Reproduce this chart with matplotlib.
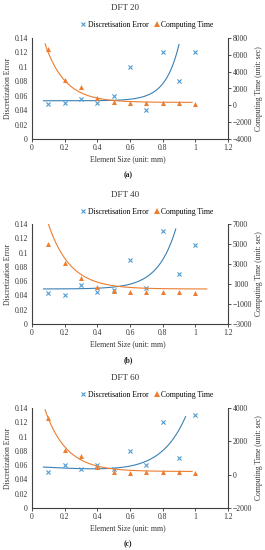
import numpy as np
import matplotlib
matplotlib.use("Agg")
import matplotlib.pyplot as plt
from matplotlib.lines import Line2D

plt.rcParams['font.family'] = ['Liberation Serif', 'DejaVu Serif']

# element sizes (mm)
element_size = [0.1, 0.2, 0.3, 0.4, 0.5, 0.6, 0.7, 0.8, 0.9, 1.0]

# discretisation error per panel
error_dft20 = [0.048, 0.050, 0.055, 0.050, 0.060, 0.100, 0.040, 0.120, 0.080, 0.120]
error_dft40 = [0.043, 0.040, 0.055, 0.045, 0.048, 0.090, 0.050, 0.130, 0.070, 0.110]
error_dft60 = [0.050, 0.060, 0.055, 0.060, 0.055, 0.080, 0.060, 0.120, 0.070, 0.130]

# computing time (sec) per panel
time_dft20 = [6700, 3000, 2200, 900, 400, 300, 300, 300, 300, 200]
time_dft40 = [5050, 3150, 1600, 670, 270, 170, 200, 200, 170, 120]
time_dft60 = [3400, 1480, 1120, 440, 160, 120, 140, 140, 140, 80]

titles = ["DFT 20", "DFT 40", "DFT 60"]
captions = ["(a)", "(b)", "(c)"]

# trendline coefficients
# error trend: base + slope*x + amp*exp(k*(x - x_end)), drawn from x_start to x_end
err_trend = [
    dict(base=0.053, slope=0.0, amp=0.078, k=12.0, x0=0.07, x1=0.90),
    dict(base=0.049, slope=0.0, amp=0.084, k=9.0, x0=0.07, x1=0.88),
    dict(base=0.058, slope=-0.014, amp=0.083, k=6.5, x0=0.07, x1=0.94),
]
# time trend: c + a*exp(-k*x)
time_trend = [
    dict(c=350, a=13400, k=8.2, x0=0.08, x1=0.98),
    dict(c=500, a=13800, k=7.5, x0=0.07, x1=1.07),
    dict(c=190, a=6800, k=7.6, x0=0.08, x1=0.98),
]

right_limits = [(-4000, 8000, 2000), (-3000, 7000, 2000), (-2000, 4000, 2000)]

errors = [error_dft20, error_dft40, error_dft60]
times = [time_dft20, time_dft40, time_dft60]

BLUE = "#4f9bd1"
BLUE_LINE = "#3a80b4"
ORANGE = "#ed7d31"
AX = "#404040"
TXT = "#333333"

W, H = 265, 550
fig = plt.figure(figsize=(W / 100, H / 100), dpi=100)

# pixel layout: (top, bottom) of each axes, title/legend/xlabel/caption rows
axes_rows = [(38, 139), (224, 324), (408, 508)]
title_y = [8, 195, 378]
legend_y = [25, 212, 395]
xlabel_y = [159, 344, 528]
caption_y = [175, 360, 544]
left_px, right_px = 32, 228

fs = 5.5

for i in range(3):
    top, bot = axes_rows[i]
    ax = fig.add_axes([left_px / W, 1 - bot / H, (right_px - left_px) / W, (bot - top) / H])
    ax2 = ax.twinx()

    # error points and trend
    ax.scatter(element_size, errors[i], marker="x", s=9, color=BLUE, linewidths=0.8, zorder=3)
    et = err_trend[i]
    xs = np.linspace(et["x0"], et["x1"], 200)
    ax.plot(xs, et["base"] + et["slope"] * xs + et["amp"] * np.exp(et["k"] * (xs - et["x1"])),
            color=BLUE_LINE, lw=0.8, zorder=2)

    # time points and trend
    ax2.scatter(element_size, times[i], marker="^", s=13, color=ORANGE, linewidths=0, zorder=3)
    tt = time_trend[i]
    xs = np.linspace(tt["x0"], tt["x1"], 200)
    ax2.plot(xs, tt["c"] + tt["a"] * np.exp(-tt["k"] * xs), color=ORANGE, lw=0.8, zorder=2)

    ax.set_xlim(0, 1.2)
    ax.set_ylim(0, 0.14)
    ax.set_xticks(np.arange(0, 1.21, 0.2))
    ax.set_xticklabels(["0", "0.2", "0.4", "0.6", "0.8", "1", "1.2"])
    ax.set_yticks(np.arange(0, 0.141, 0.02))
    ax.set_yticklabels(["0", "0.02", "0.04", "0.06", "0.08", "0.1", "0.12", "0.14"])
    lo, hi, step = right_limits[i]
    ax2.set_ylim(lo, hi)
    ax2.set_yticks(np.arange(lo, hi + 1, step))

    for a in (ax, ax2):
        a.spines["top"].set_visible(False)
        for s in a.spines.values():
            s.set_color(AX)
            s.set_linewidth(0.8)
        a.tick_params(labelsize=fs, colors=TXT, length=2, width=0.6, pad=1.5)
    ax.spines["right"].set_visible(False)
    ax2.spines["left"].set_visible(False)
    ax2.spines["bottom"].set_visible(False)
    ax.tick_params(axis="y", length=0, pad=3)

    ax.set_ylabel("Discretization Error", fontsize=fs, color=TXT, labelpad=2)
    ax2.set_ylabel("Computing Time (unit: sec)", fontsize=fs, color=TXT, labelpad=2)

    fig.text(125 / W, 1 - title_y[i] / H, titles[i], fontsize=6.5, ha="center", va="center", color=TXT)
    fig.text(128 / W, 1 - xlabel_y[i] / H, "Element Size (unit: mm)", fontsize=fs,
             ha="center", va="center", color=TXT)
    fig.text(128 / W, 1 - caption_y[i] / H, captions[i], fontsize=fs, ha="center", va="center",
             color="#222222", weight="bold")

    handles = [
        Line2D([], [], marker="x", ls="none", color=BLUE, markersize=3.2, markeredgewidth=0.8),
        Line2D([], [], marker="^", ls="none", color=ORANGE, markersize=3.8, markeredgewidth=0),
    ]
    fig.legend(handles, ["Discretisation Error", "Computing Time"], loc="center",
               bbox_to_anchor=(147 / W, 1 - legend_y[i] / H), ncol=2, frameon=False,
               fontsize=fs, handlelength=0.6, handletextpad=0.3, columnspacing=0.8,
               borderaxespad=0, borderpad=0)

fig.savefig("out.png", dpi=100)
